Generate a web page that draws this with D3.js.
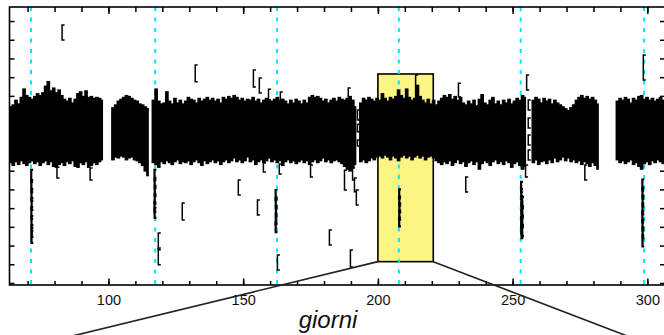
<!DOCTYPE html>
<html>
<head>
<meta charset="utf-8">
<script src="https://cdn.jsdelivr.net/npm/d3@7"></script>
<style>
  html, body { margin: 0; padding: 0; background: #fff; }
  svg { display: block; }
</style>
</head>
<body>
<svg id="chart" width="664" height="335"></svg>
<script>
// Light curve: relative flux (parts per thousand) against time in days.

// Axis extents and ticks
const xDomain = [63.28, 306.55];
const yDomain = [-8.108, 6.75];
const xTicksMinor = d3.range(70, 301, 10);
const xTicksMajor = [100, 150, 200, 250, 300];
const yTicks = d3.range(-8, 7, 1);

// Predicted transit epochs (days)
const transitDays = [71.27, 117.35, 162.58, 207.77, 252.99, 298.81];

// Zoomed window (days, flux)
const zoomDays = [200, 220.55];
const zoomFlux = [-6.86, 3.17];

// Observing runs: first day of each run; one column per day with upper / lower envelope
const segStart = [63, 101, 116, 193, 257, 288.2];

const topA = [1.45,1.55,1.80,1.60,1.95,2.40,2.05,1.95,1.85,2.00,2.15,2.05,2.20,2.55,2.80,2.30,2.45,2.20,2.35,2.05,1.85,1.75,1.90,1.65,1.85,2.15,2.25,2.00,2.30,1.95,2.00,1.90,1.95,1.90,1.80];
const lowA = [-1.60,-1.75,-1.55,-1.70,-1.50,-1.65,-1.75,-1.60,-1.50,-1.65,-1.55,-1.75,-1.60,-1.50,-1.70,-1.55,-1.80,-1.85,-1.70,-1.60,-1.75,-1.55,-1.65,-1.50,-1.80,-1.85,-1.60,-1.70,-1.55,-1.85,-1.75,-1.60,-1.70,-1.55,-1.45];

const topB = [1.40,1.55,1.75,1.85,1.95,2.05,2.00,1.90,1.80,1.75,1.60,1.55,1.45,1.35];
const lowB = [-1.45,-1.30,-1.35,-1.25,-1.30,-1.45,-1.35,-1.30,-1.45,-1.50,-1.60,-1.75,-2.05,-2.30];

const topC = [1.80,2.40,1.75,1.60,1.65,2.25,1.75,1.60,1.90,1.65,
  1.80,1.60,1.75,1.95,1.85,1.80,1.65,1.90,1.75,1.85,
  1.95,1.80,1.90,1.75,1.85,1.65,1.95,1.85,2.00,1.90,
  2.05,1.95,1.80,1.90,1.75,1.85,1.80,1.95,1.75,1.85,
  1.65,1.80,1.90,1.80,1.75,1.85,1.95,1.80,1.85,1.75,
  1.60,1.80,1.65,1.85,1.75,1.60,1.80,1.65,1.95,2.05,
  1.95,2.00,1.90,1.75,1.85,1.65,1.80,1.90,1.75,1.95,
  1.85,1.80,1.90,2.00,1.80,1.45];
const lowC = [-1.60,-1.70,-1.85,-1.55,-1.65,-1.50,-1.60,-1.70,-1.55,-1.45,
  -1.65,-1.55,-1.60,-1.50,-1.70,-1.55,-1.45,-1.60,-1.75,-1.50,
  -1.65,-1.55,-1.45,-1.60,-1.50,-1.70,-1.55,-1.45,-1.60,-1.50,
  -1.35,-1.55,-1.45,-1.60,-1.50,-1.30,-1.55,-1.45,-1.70,-1.55,
  -1.45,-1.60,-1.50,-1.35,-1.55,-1.45,-1.60,-1.50,-1.75,-1.55,
  -1.45,-1.60,-1.50,-1.65,-1.55,-1.45,-1.60,-1.50,-1.70,-1.55,
  -1.45,-1.60,-1.50,-1.35,-1.55,-1.45,-1.60,-1.50,-1.45,-1.55,
  -1.65,-1.80,-1.95,-2.05,-1.85,-1.70];

const topD = [1.65,1.90,1.80,1.95,1.85,1.75,1.90,1.80,2.15,1.90,
  1.75,1.95,1.85,2.00,2.35,2.05,1.90,2.40,1.95,1.80,
  1.90,2.60,2.00,1.80,1.65,1.85,1.60,1.80,1.55,1.75,
  1.90,2.05,1.95,2.10,1.85,2.00,1.80,1.95,1.65,1.55,
  1.75,1.60,1.80,1.50,1.85,2.10,1.65,1.55,1.80,1.95,
  1.60,1.75,1.55,1.80,1.65,1.85,1.60,1.75,1.90,1.80,
  2.05,1.95];
const lowD = [-1.55,-1.45,-1.60,-1.50,-1.35,-1.45,-1.30,-1.25,-1.35,-1.20,
  -1.30,-1.45,-1.25,-1.35,-1.50,-1.30,-1.20,-1.35,-1.25,-1.45,
  -1.30,-1.20,-1.35,-1.25,-1.45,-1.30,-1.25,-1.35,-1.50,-1.60,
  -1.70,-1.55,-1.65,-1.50,-1.75,-1.60,-1.45,-1.65,-1.55,-1.80,
  -1.60,-1.50,-1.70,-1.55,-1.95,-1.65,-1.50,-1.60,-1.75,-1.55,
  -1.45,-1.65,-1.55,-1.70,-1.50,-1.60,-1.85,-1.65,-1.55,-1.75,
  -1.95,-1.80];

const topE = [1.80,1.95,1.85,1.65,1.90,1.75,1.85,1.60,1.80,1.65,1.55,1.45,1.35,1.25,1.40,1.55,1.80,1.95,2.05,1.90,2.00,1.85,1.95,1.80,1.60];
const lowE = [-1.60,-1.45,-1.70,-1.55,-1.50,-1.65,-1.45,-1.60,-1.35,-1.55,-1.45,-1.30,-1.50,-1.35,-1.55,-1.45,-1.60,-1.50,-1.70,-1.55,-1.65,-1.80,-1.60,-1.75,-1.95];

const topF = [1.75,1.90,1.80,1.95,1.85,1.65,1.90,1.80,2.00,2.05,1.85,1.95,1.80,1.90,1.75,1.85,1.95,1.80];
const lowF = [-1.45,-1.60,-1.50,-1.65,-1.55,-1.45,-1.70,-1.60,-1.80,-1.95,-1.65,-1.55,-1.70,-1.50,-1.60,-1.45,-1.55,-1.65];

const segTop = [topA, topB, topC, topD, topE, topF];
const segLow = [lowA, lowB, lowC, lowD, lowE, lowF];

// Isolated measurements (day, flux, 1-sigma error)
const ptDay = [82.8, 132.2, 153.8, 156.0, 159.4, 163.8, 189.0, 229.9, 255.2, 298.5, 214.0,
  80.9, 127.4, 118.5, 118.5, 148.2, 155.3, 162.7, 182.0, 189.8,
  187.6, 190.6, 191.3, 192.0, 192.4, 192.4, 192.4,
  232.6, 276.8, 254.8, 255.8, 255.8, 255.8, 255.8, 93.2, 157.5, 163.4, 175.0];
const ptVal = [5.39, 3.20, 2.93, 2.55, 2.07, 1.78, 2.18, 2.31, 2.72, 3.52, 2.50,
  -2.10, -4.18, -5.78, -6.58, -2.90, -3.97, -6.91, -5.57, -6.69,
  -2.50, -2.18, -2.76, -3.43, 0.98, 0.28, -0.52,
  -2.74, -2.10, -2.01, 1.51, 0.55, -0.36, -1.16, -2.18, -1.83, -1.91, -2.01];
const ptErr = [0.40, 0.45, 0.45, 0.40, 0.29, 0.43, 0.24, 0.37, 0.40, 0.67, 0.61,
  0.29, 0.45, 0.45, 0.45, 0.40, 0.40, 0.40, 0.40, 0.45,
  0.53, 0.32, 0.37, 0.40, 0.27, 0.20, 0.16,
  0.40, 0.40, 0.32, 0.27, 0.27, 0.27, 0.27, 0.32, 0.24, 0.27, 0.32];

// In-transit measurements
const dipDay = [71.35, 71.40, 71.45, 71.50, 71.40, 71.45, 71.50, 71.45,
  117.10, 117.15, 117.20, 117.15, 117.10, 117.15,
  162.05, 162.10, 162.15, 162.10, 162.05,
  207.90, 207.95, 208.00, 207.95, 207.90,
  253.15, 253.20, 253.25, 253.30, 253.25, 253.20, 253.25, 253.30, 253.55, 253.55, 253.55, 253.55,
  298.15, 298.20, 298.25, 298.20, 298.15, 298.20, 298.25, 298.20];
const dipVal = [-2.28, -2.82, -3.30, -3.78, -4.26, -4.74, -5.22, -5.54,
  -2.23, -2.66, -3.08, -3.51, -3.93, -4.25,
  -3.30, -3.73, -4.15, -4.58, -5.01,
  -3.24, -3.62, -3.99, -4.37, -4.74,
  -2.87, -3.24, -3.62, -3.99, -4.37, -4.74, -5.11, -5.33, -3.70, -4.20, -4.70, -5.20,
  -2.76, -3.19, -3.62, -4.04, -4.47, -4.90, -5.32, -5.75];
const dipErr = [0.32, 0.32, 0.32, 0.32, 0.32, 0.32, 0.32, 0.32,
  0.27, 0.27, 0.27, 0.27, 0.27, 0.27,
  0.27, 0.27, 0.27, 0.27, 0.27,
  0.24, 0.24, 0.24, 0.24, 0.24,
  0.27, 0.27, 0.27, 0.27, 0.27, 0.27, 0.27, 0.27, 0.30, 0.30, 0.30, 0.30,
  0.29, 0.29, 0.29, 0.29, 0.29, 0.29, 0.29, 0.29];

// ---------------------------------------------------------------
const svg = d3.select('#chart');
const frame = { left: 9.5, top: 7, right: 665, bottom: 285 };

const x = d3.scaleLinear().domain(xDomain).range([frame.left, frame.right]);
const y = d3.scaleLinear().domain(yDomain).range([frame.bottom, frame.top]);

svg.append('defs').append('clipPath').attr('id', 'plotClip')
  .append('rect')
  .attr('x', frame.left).attr('y', frame.top)
  .attr('width', frame.right - frame.left).attr('height', frame.bottom - frame.top);

const plot = svg.append('g').attr('clip-path', 'url(#plotClip)');

// Zoom window
plot.append('rect')
  .attr('x', x(zoomDays[0])).attr('y', y(zoomFlux[1]))
  .attr('width', x(zoomDays[1]) - x(zoomDays[0]))
  .attr('height', y(zoomFlux[0]) - y(zoomFlux[1]))
  .attr('fill', '#fbf584').attr('stroke', '#000').attr('stroke-width', 1.6);

// Transit epochs
plot.selectAll('line.epoch').data(transitDays).join('line')
  .attr('class', 'epoch')
  .attr('x1', d => x(d)).attr('x2', d => x(d))
  .attr('y1', frame.top).attr('y2', frame.bottom)
  .attr('stroke', '#00e4ff').attr('stroke-width', 2)
  .attr('stroke-dasharray', '4,6.5');

// Dense photometry: one column per day spanning the scatter envelope
const cols = [];
segStart.forEach((s, i) => {
  segTop[i].forEach((t, j) => cols.push({ d: s + j, hi: t, lo: segLow[i][j], last: j === segTop[i].length - 1 }));
});
plot.append('g').selectAll('rect').data(cols).join('rect')
  .attr('x', c => x(c.d))
  .attr('width', c => x(c.d + 1) - x(c.d) + (c.last ? 0 : 1))
  .attr('y', c => y(c.hi))
  .attr('height', c => y(c.lo) - y(c.hi))
  .attr('fill', '#000');

// Error bars
function errorBars(days, vals, errs, width, cap) {
  const g = plot.append('g').attr('stroke', '#000').attr('stroke-width', width).attr('fill', 'none');
  const data = days.map((d, i) => ({ d, v: vals[i], e: errs[i] }));
  g.selectAll('path').data(data).join('path')
    .attr('d', p => {
      const cx = x(p.d), y0 = y(p.v + p.e), y1 = y(p.v - p.e);
      return `M${cx + cap},${y0}H${cx}V${y1}H${cx + cap}`;
    });
}
errorBars(ptDay, ptVal, ptErr, 1.5, 2.5);
errorBars(dipDay, dipVal, dipErr, 2.2, 1.8);

// Axes
function styleAxis(g) {
  g.select('.domain').remove();
  g.selectAll('.tick line').attr('stroke', '#000').attr('stroke-width', 1.5);
  g.selectAll('.tick text')
    .attr('font-family', '"Liberation Sans", Arial, Helvetica, sans-serif')
    .attr('font-size', 14.5).attr('fill', '#111');
}

svg.append('g').attr('transform', `translate(0,${frame.bottom})`)
  .call(d3.axisBottom(x).tickValues(xTicksMinor).tickSize(-4).tickFormat(''))
  .call(styleAxis);
svg.append('g').attr('transform', `translate(0,${frame.bottom})`)
  .call(d3.axisBottom(x).tickValues(xTicksMajor).tickSize(-6.5).tickPadding(10).tickFormat(d3.format('d')))
  .call(styleAxis);
svg.append('g').attr('transform', `translate(0,${frame.top})`)
  .call(d3.axisTop(x).tickValues(xTicksMinor).tickSize(-5).tickFormat(''))
  .call(styleAxis);
svg.append('g').attr('transform', `translate(0,${frame.top})`)
  .call(d3.axisTop(x).tickValues(xTicksMajor).tickSize(-7).tickFormat(''))
  .call(styleAxis);
svg.append('g').attr('transform', `translate(${frame.left},0)`)
  .call(d3.axisLeft(y).tickValues(yTicks).tickSize(-5).tickFormat(''))
  .call(styleAxis);
svg.append('g').attr('transform', `translate(${frame.right},0)`)
  .call(d3.axisRight(y).tickValues(yTicks).tickSize(-5).tickFormat(''))
  .call(styleAxis);

svg.append('rect')
  .attr('x', frame.left).attr('y', frame.top)
  .attr('width', frame.right - frame.left).attr('height', frame.bottom - frame.top)
  .attr('fill', 'none').attr('stroke', '#000').attr('stroke-width', 1.6);

// Connectors to the enlarged panel below
const insetTop = 339, insetLeft = 60, insetRight = 635;
svg.append('line')
  .attr('x1', x(zoomDays[0])).attr('y1', y(zoomFlux[0]))
  .attr('x2', insetLeft).attr('y2', insetTop)
  .attr('stroke', '#222').attr('stroke-width', 1.6);
svg.append('line')
  .attr('x1', x(zoomDays[1])).attr('y1', y(zoomFlux[0]))
  .attr('x2', insetRight).attr('y2', insetTop)
  .attr('stroke', '#222').attr('stroke-width', 1.6);

// Axis title
svg.append('text')
  .attr('x', 328).attr('y', 328)
  .attr('text-anchor', 'middle')
  .attr('font-family', '"Liberation Sans", Arial, Helvetica, sans-serif')
  .attr('font-style', 'italic')
  .attr('font-size', 24)
  .attr('fill', '#111')
  .text('giorni');
</script>
</body>
</html>
